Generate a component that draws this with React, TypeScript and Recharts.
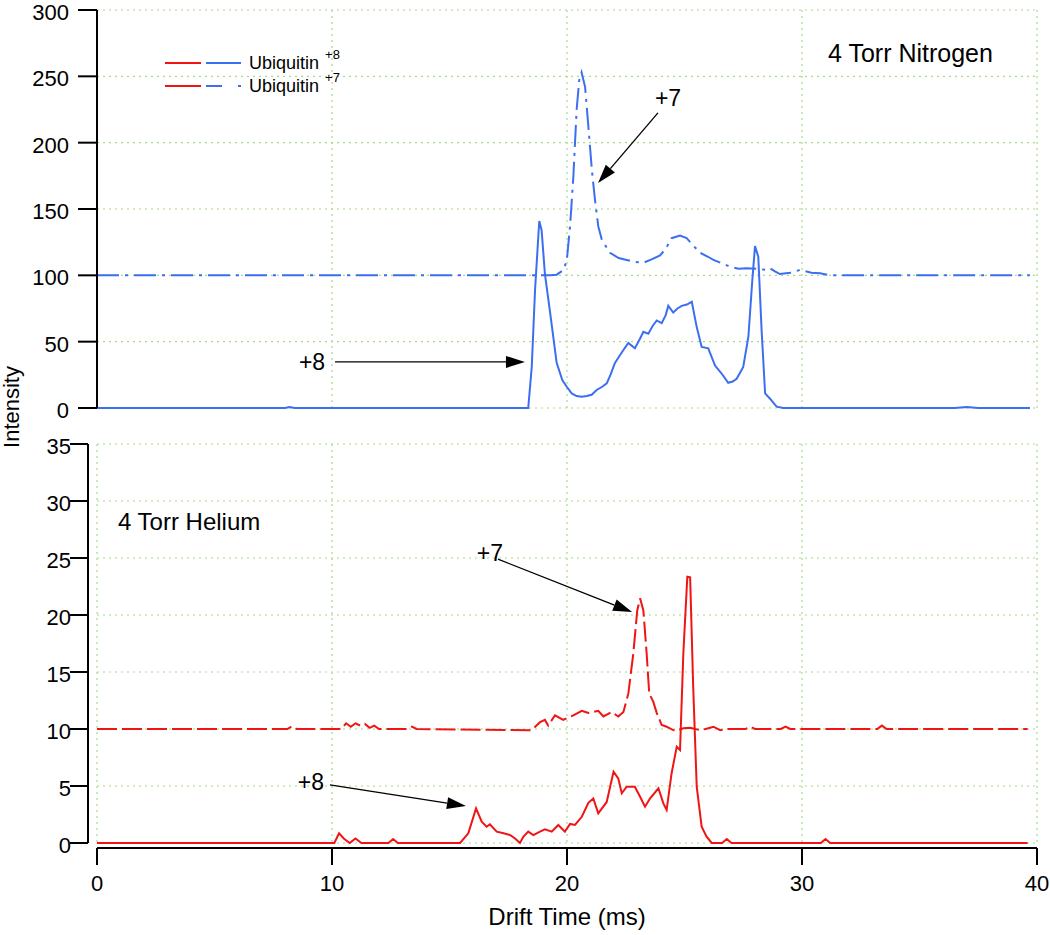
import { CartesianGrid, Line, LineChart, ReferenceDot, ReferenceLine, XAxis, YAxis } from 'recharts'

type Pair = [number, number]
type Note = { label: string; text: Pair; tail: Pair; head: Pair }

const timeTicks = [0, 10, 20, 30, 40]
const nitrogenTicks = [0, 50, 100, 150, 200, 250, 300]
const heliumTicks = [0, 5, 10, 15, 20, 25, 30, 35]

// 4 Torr nitrogen, [drift time ms, intensity]
const nitrogenCharge8: Pair[] = [
  [0, 0], [8.0, 0], [8.2, 0.8], [8.4, 0], [18.2, 0], [18.35, 0], [18.5, 31], [18.64, 89], [18.82, 141],
  [18.92, 134], [19.06, 101], [19.28, 72], [19.56, 34], [19.8, 21], [19.99, 16], [20.2, 11], [20.41, 9],
  [20.62, 8.5], [20.84, 9], [21.05, 10], [21.26, 13.6], [21.5, 16], [21.69, 18.6], [21.85, 25], [22.04, 34],
  [22.26, 40], [22.45, 45], [22.61, 49], [22.75, 47], [22.89, 45], [23.1, 52], [23.25, 57.5], [23.46, 56],
  [23.65, 62], [23.82, 66], [24.03, 64], [24.2, 70], [24.31, 77], [24.52, 72], [24.7, 75], [24.88, 77],
  [25.1, 78], [25.31, 80], [25.52, 61], [25.73, 46], [26.01, 45], [26.3, 32], [26.58, 26], [26.86, 19],
  [27.05, 20], [27.22, 22], [27.5, 31], [27.72, 54], [27.88, 95], [28.0, 122], [28.14, 114], [28.28, 59],
  [28.43, 11], [28.64, 7], [28.92, 1], [29.2, 0], [36.5, 0], [37.0, 0.8], [37.5, 0], [39.7, 0],
]

const nitrogenCharge7: Pair[] = [
  [0, 100], [19.3, 100], [19.56, 100.5], [19.85, 104], [19.99, 111], [20.13, 137], [20.27, 174], [20.41, 225],
  [20.52, 247], [20.62, 253], [20.77, 242], [20.91, 212], [21.06, 179], [21.19, 157], [21.33, 137], [21.48, 127],
  [21.65, 122], [21.83, 117], [22.2, 113], [22.54, 111.6], [22.9, 110], [23.25, 109.5], [23.6, 112], [23.96, 115],
  [24.2, 120], [24.45, 128], [24.81, 130], [25.09, 128], [25.4, 122], [25.66, 117], [26.0, 114], [26.23, 111.6],
  [26.6, 109], [26.94, 106.5], [27.3, 105], [27.65, 105.3], [28.1, 105], [28.5, 104], [28.64, 105.3], [28.85, 103],
  [29.06, 101], [29.5, 102], [29.91, 104], [30.4, 102], [30.77, 101.5], [31.2, 100], [39.7, 100],
]

// 4 Torr helium
const heliumCharge8: Pair[] = [
  [0, 0], [10.1, 0], [10.3, 0.85], [10.5, 0.4], [10.75, 0], [11.0, 0.4], [11.25, 0], [12.4, 0], [12.6, 0.35],
  [12.8, 0], [15.45, 0], [15.8, 0.85], [16.13, 3.04], [16.37, 1.87], [16.58, 1.43], [16.72, 1.64], [17.01, 1.0],
  [17.3, 0.85], [17.57, 0.7], [17.79, 0.4], [18.0, 0], [18.14, 0.55], [18.35, 1.0], [18.57, 0.7], [18.85, 1.0],
  [19.06, 1.2], [19.35, 1.0], [19.63, 1.58], [19.91, 1.0], [20.13, 1.67], [20.34, 1.58], [20.63, 2.3], [20.91, 3.53],
  [21.12, 3.9], [21.33, 2.6], [21.69, 3.6], [21.98, 6.25], [22.18, 5.67], [22.33, 4.36], [22.54, 4.94], [22.89, 4.94],
  [23.11, 4.06], [23.32, 3.18], [23.53, 3.9], [23.89, 4.8], [24.1, 3.48], [24.24, 2.9], [24.45, 6.1], [24.67, 8.45],
  [24.81, 8.16], [24.95, 16.6], [25.12, 23.35], [25.24, 23.3], [25.37, 13.7], [25.52, 4.94], [25.73, 1.43],
  [25.94, 0.55], [26.16, 0], [26.6, 0], [26.8, 0.35], [27.0, 0], [30.8, 0], [31.0, 0.35], [31.2, 0], [39.6, 0],
]

const heliumCharge7: Pair[] = [
  [0, 10], [8.1, 10], [8.3, 10.25], [8.5, 10], [10.4, 10], [10.6, 10.5], [10.8, 10.2], [11.0, 10.5], [11.2, 10.3],
  [11.4, 10.45], [11.6, 10.1], [11.8, 10.3], [12.0, 10], [13.2, 10], [13.4, 10.2], [13.6, 10], [18.5, 9.9],
  [18.85, 10.6], [19.06, 10.8], [19.2, 10.3], [19.49, 11.2], [19.84, 10.8], [20.05, 11.0], [20.27, 11.2],
  [20.63, 11.6], [20.91, 11.4], [21.33, 11.6], [21.55, 11.1], [21.9, 11.5], [22.18, 11.1], [22.4, 11.5],
  [22.61, 13.1], [22.82, 16.6], [22.99, 20.4], [23.11, 21.46], [23.25, 20.4], [23.39, 16.6], [23.5, 13.1],
  [23.67, 12.4], [23.82, 11.4], [24.03, 10.35], [24.24, 10.2], [24.52, 9.9], [24.67, 9.85], [24.95, 10.06],
  [25.24, 10.1], [25.66, 9.9], [25.9, 10], [26.23, 10.2], [26.52, 9.9], [26.8, 10], [27.6, 10], [27.8, 10.2],
  [28.0, 10], [29.1, 10], [29.3, 10.2], [29.5, 10], [33.2, 10], [33.4, 10.3], [33.6, 10], [39.6, 10],
]

const nitrogenNotes: Note[] = [
  { label: '+7', text: [24.3, 234], tail: [23.87, 222.4], head: [21.32, 169.6] },
  { label: '+8', text: [9.15, 34.7], tail: [10.13, 34.7], head: [18.21, 34.7] },
]
const heliumNotes: Note[] = [
  { label: '+7', text: [16.72, 25.4], tail: [17.06, 24.9], head: [22.77, 20.26] },
  { label: '+8', text: [9.1, 5.35], tail: [9.91, 5.09], head: [15.7, 3.24] },
]

const BLUE = '#3c6ef0'
const RED = '#f01414'
const GRID = '#a6dc86'
const FONT = '"Liberation Sans", Arial, sans-serif'

const toPoints = (pairs: Pair[]) => pairs.map(([t, v]) => ({ t, v }))

function ArrowShape(props: any) {
  const { x1, y1, x2, y2 } = props
  const ang = Math.atan2(y2 - y1, x2 - x1)
  const cos = Math.cos(ang)
  const sin = Math.sin(ang)
  const bx = x2 - 19 * cos
  const by = y2 - 19 * sin
  const pts = `${x2},${y2} ${bx - 6 * sin},${by + 6 * cos} ${bx + 6 * sin},${by - 6 * cos}`
  return (
    <g>
      <line x1={x1} y1={y1} x2={bx} y2={by} stroke="#000" strokeWidth={1.3} />
      <polygon points={pts} fill="#000" />
    </g>
  )
}

function renderNotes(notes: Note[]) {
  return notes.map((n) => [
    <ReferenceLine
      key={`l${n.label}`}
      segment={[{ x: n.tail[0], y: n.tail[1] }, { x: n.head[0], y: n.head[1] }]}
      shape={ArrowShape}
    />,
    <ReferenceDot
      key={`d${n.label}`}
      x={n.text[0]}
      y={n.text[1]}
      shape={(p: any) => (
        <text x={p.cx} y={p.cy} textAnchor="middle" dominantBaseline="central" fontSize={23} fontFamily={FONT} fill="#000">
          {n.label}
        </text>
      )}
    />,
  ])
}

// y tick labels sit a little below their tick marks in the original
function YTick({ x, y, payload }: any) {
  return (
    <text x={x} y={y + 2.5} textAnchor="end" dominantBaseline="central" fontSize={22} fontFamily={FONT} fill="#000">
      {payload.value}
    </text>
  )
}

function LegendRow({ top, dash, charge }: { top: number; dash?: string; charge: string }) {
  return (
    <div style={{ position: 'absolute', left: 165, top, height: 20, display: 'flex', alignItems: 'center' }}>
      <svg width={80} height={20}>
        <line x1={0} y1={10} x2={36} y2={10} stroke={RED} strokeWidth={2} />
        <line x1={41} y1={10} x2={76} y2={10} stroke={BLUE} strokeWidth={2} strokeDasharray={dash} />
      </svg>
      <span style={{ fontSize: 18, marginLeft: 4 }}>Ubiquitin</span>
      <span style={{ fontSize: 13, marginLeft: 6, position: 'relative', top: -9 }}>{charge}</span>
    </div>
  )
}

export default function App() {
  return (
    <div style={{ position: 'absolute', left: 0, top: 0, width: 1050, height: 935, background: '#fff', fontFamily: FONT }}>
      <style>{`.he-x-axis { transform: translate(0px, 5px); } .he-y-axis { transform: translate(-9px, 0px); }`}</style>

      <div style={{ position: 'absolute', left: 0, top: 0 }}>
        <LineChart width={1050} height={430} margin={{ top: 10, right: 13, bottom: 22, left: 0 }}>
          <CartesianGrid stroke={GRID} strokeDasharray="2 4" strokeWidth={1.2} />
          <XAxis dataKey="t" type="number" domain={[0, 40]} ticks={timeTicks} hide />
          <YAxis
            type="number"
            domain={[0, 300]}
            ticks={nitrogenTicks}
            interval={0}
            width={97}
            tickSize={19}
            tickMargin={9}
            stroke="#000"
            strokeWidth={2}
            tickLine={{ stroke: '#000', strokeWidth: 2 }}
            tick={<YTick />}
          />
          <Line data={toPoints(nitrogenCharge7)} dataKey="v" type="linear" stroke={BLUE} strokeWidth={2}
            strokeDasharray="22 6 3 6" dot={false} isAnimationActive={false} />
          <Line data={toPoints(nitrogenCharge8)} dataKey="v" type="linear" stroke={BLUE} strokeWidth={2}
            dot={false} isAnimationActive={false} />
          {renderNotes(nitrogenNotes)}
        </LineChart>
      </div>

      <div style={{ position: 'absolute', left: 0, top: 430 }}>
        <LineChart width={1050} height={505} margin={{ top: 14, right: 13, bottom: 12, left: 0 }}>
          <CartesianGrid stroke={GRID} strokeDasharray="2 4" strokeWidth={1.2} />
          <XAxis
            className="he-x-axis"
            dataKey="t"
            type="number"
            domain={[0, 40]}
            ticks={timeTicks}
            interval={0}
            height={80}
            tickSize={17}
            tickMargin={15}
            stroke="#000"
            strokeWidth={2}
            tickLine={{ stroke: '#000', strokeWidth: 2 }}
            tick={{ fill: '#000', fontSize: 22, fontFamily: FONT }}
            label={{ value: 'Drift Time (ms)', position: 'insideBottom', offset: -2, fill: '#000', fontSize: 24, fontFamily: FONT }}
          />
          <YAxis
            className="he-y-axis"
            type="number"
            domain={[0, 35]}
            ticks={heliumTicks}
            interval={0}
            width={97}
            tickSize={18}
            tickMargin={8}
            stroke="#000"
            strokeWidth={2}
            tickLine={{ stroke: '#000', strokeWidth: 2 }}
            tick={<YTick />}
          />
          <Line data={toPoints(heliumCharge7)} dataKey="v" type="linear" stroke={RED} strokeWidth={2}
            strokeDasharray="20 5" dot={false} isAnimationActive={false} />
          <Line data={toPoints(heliumCharge8)} dataKey="v" type="linear" stroke={RED} strokeWidth={2}
            dot={false} isAnimationActive={false} />
          {renderNotes(heliumNotes)}
        </LineChart>
      </div>

      <LegendRow top={53} charge="+8" />
      <LegendRow top={76} dash="16 16 3 100" charge="+7" />

      <div style={{ position: 'absolute', left: 828, top: 39, fontSize: 25 }}>4 Torr Nitrogen</div>
      <div style={{ position: 'absolute', left: 118, top: 508, fontSize: 24 }}>4 Torr Helium</div>
      <div
        style={{
          position: 'absolute',
          left: 12,
          top: 407,
          fontSize: 22,
          transform: 'translate(-50%, -50%) rotate(-90deg)',
          whiteSpace: 'nowrap',
        }}
      >
        Intensity
      </div>
    </div>
  )
}
